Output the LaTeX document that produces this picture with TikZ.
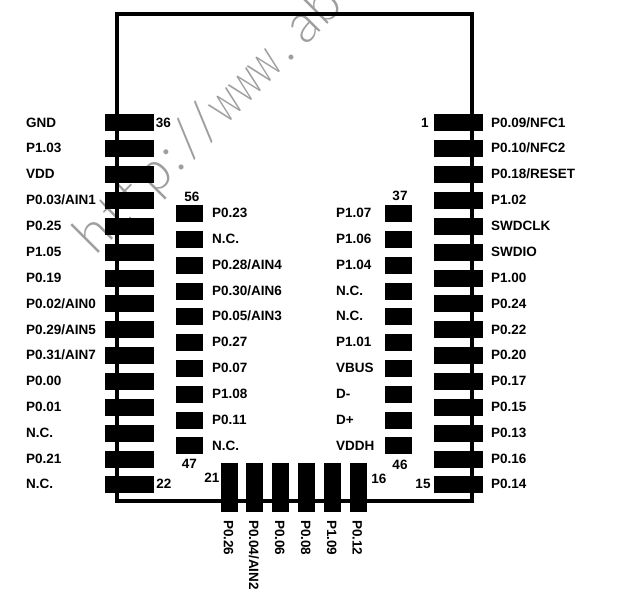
\documentclass[tikz,border=0pt]{standalone}
\usepackage{fontspec}
\setmainfont{Liberation Sans}
\newfontfamily\markfont{Lato}[UprightFont=* Light]
\begin{document}
\begin{tikzpicture}[x=1pt, y=1pt,
		outerpad/.style={fill=black, inner sep=0, minimum width=49, minimum height=17},
		innerpad/.style={fill=black, inner sep=0, minimum width=26.5, minimum height=17},
		bottompad/.style={fill=black, inner sep=0, minimum width=17, minimum height=49},
		pinname/.style={anchor=west, inner sep=0, text height=9.7, text depth=0, font=\fontsize{13.5}{14}\selectfont\bfseries},
		bottomname/.style={pinname, rotate=-90},
		pinnum/.style={inner sep=0, text height=9.7, text depth=0, font=\fontsize{13.5}{14}\selectfont\bfseries},
		mark text/.style={text=black!38, font=\fontsize{54}{60}\selectfont\markfont}]

		\useasboundingbox (0,0) rectangle (633,-600);
		\clip (0,0) rectangle (633,-600);

		\node (watermark) at (95,-257) [mark text, anchor=base west, rotate=45, inner sep=0] {h\kern6pt t\kern6pt t\kern6pt p\kern3pt :\kern6pt /\kern0pt /\kern2pt \scalebox{.68}[1]{www}\kern4pt .\kern12pt ab};

		\draw[line width=3.6] (117,-14) rectangle (472,-501);

		% left row
		\node (p36) at (129.5,-122.3) [outerpad] {}; \node (l36) at (26,-122.3) [pinname] {GND};
		\node (p35) at (129.5,-148.9) [outerpad] {}; \node (l35) at (26,-148) [pinname] {P1.03};
		\node (p34) at (129.5,-174.7) [outerpad] {}; \node (l34) at (26,-174) [pinname] {VDD};
		\node (p33) at (129.5,-200.3) [outerpad] {}; \node (l33) at (26,-200) [pinname] {P0.03/AIN1};
		\node (p32) at (129.5,-226.7) [outerpad] {}; \node (l32) at (26,-226) [pinname] {P0.25};
		\node (p31) at (129.5,-252.3) [outerpad] {}; \node (l31) at (26,-252) [pinname] {P1.05};
		\node (p30) at (129.5,-278) [outerpad] {}; \node (l30) at (26,-278) [pinname] {P0.19};
		\node (p29) at (129.5,-303.7) [outerpad] {}; \node (l29) at (26,-303.5) [pinname] {P0.02/AIN0};
		\node (p28) at (129.5,-329.7) [outerpad] {}; \node (l28) at (26,-329.3) [pinname] {P0.29/AIN5};
		\node (p27) at (129.5,-355.3) [outerpad] {}; \node (l27) at (26,-355) [pinname] {P0.31/AIN7};
		\node (p26) at (129.5,-381) [outerpad] {}; \node (l26) at (26,-381) [pinname] {P0.00};
		\node (p25) at (129.5,-407) [outerpad] {}; \node (l25) at (26,-406.5) [pinname] {P0.01};
		\node (p24) at (129.5,-433.3) [outerpad] {}; \node (l24) at (26,-432.5) [pinname] {N.C.};
		\node (p23) at (129.5,-459) [outerpad] {}; \node (l23) at (26,-458.5) [pinname] {P0.21};
		\node (p22) at (129.5,-484.7) [outerpad] {}; \node (l22) at (26,-484) [pinname] {N.C.};

		% right row
		\node (p1) at (458.5,-122.3) [outerpad] {}; \node (l1) at (491,-122.3) [pinname] {P0.09/NFC1};
		\node (p2) at (458.5,-148.9) [outerpad] {}; \node (l2) at (491,-148) [pinname] {P0.10/NFC2};
		\node (p3) at (458.5,-174.7) [outerpad] {}; \node (l3) at (491,-174) [pinname] {P0.18/RESET};
		\node (p4) at (458.5,-200.3) [outerpad] {}; \node (l4) at (491,-200) [pinname] {P1.02};
		\node (p5) at (458.5,-226.7) [outerpad] {}; \node (l5) at (491,-226) [pinname] {SWDCLK};
		\node (p6) at (458.5,-252.3) [outerpad] {}; \node (l6) at (491,-252) [pinname] {SWDIO};
		\node (p7) at (458.5,-278) [outerpad] {}; \node (l7) at (491,-278) [pinname] {P1.00};
		\node (p8) at (458.5,-303.7) [outerpad] {}; \node (l8) at (491,-303.5) [pinname] {P0.24};
		\node (p9) at (458.5,-329.7) [outerpad] {}; \node (l9) at (491,-329.3) [pinname] {P0.22};
		\node (p10) at (458.5,-355.3) [outerpad] {}; \node (l10) at (491,-355) [pinname] {P0.20};
		\node (p11) at (458.5,-381) [outerpad] {}; \node (l11) at (491,-381) [pinname] {P0.17};
		\node (p12) at (458.5,-407) [outerpad] {}; \node (l12) at (491,-406.5) [pinname] {P0.15};
		\node (p13) at (458.5,-433.3) [outerpad] {}; \node (l13) at (491,-432.5) [pinname] {P0.13};
		\node (p14) at (458.5,-459) [outerpad] {}; \node (l14) at (491,-458.5) [pinname] {P0.16};
		\node (p15) at (458.5,-484.7) [outerpad] {}; \node (l15) at (491,-484) [pinname] {P0.14};

		% inner left
		\node (p56) at (189.3,-213.3) [innerpad] {}; \node (l56) at (212,-212.7) [pinname] {P0.23};
		\node (p55) at (189.3,-239) [innerpad] {}; \node (l55) at (212,-239) [pinname] {N.C.};
		\node (p54) at (189.3,-265) [innerpad] {}; \node (l54) at (212,-264.5) [pinname] {P0.28/AIN4};
		\node (p53) at (189.3,-291) [innerpad] {}; \node (l53) at (212,-290.3) [pinname] {P0.30/AIN6};
		\node (p52) at (189.3,-316.7) [innerpad] {}; \node (l52) at (212,-316) [pinname] {P0.05/AIN3};
		\node (p51) at (189.3,-342.7) [innerpad] {}; \node (l51) at (212,-342) [pinname] {P0.27};
		\node (p50) at (189.3,-368.7) [innerpad] {}; \node (l50) at (212,-368) [pinname] {P0.07};
		\node (p49) at (189.3,-394.3) [innerpad] {}; \node (l49) at (212,-393.7) [pinname] {P1.08};
		\node (p48) at (189.3,-420) [innerpad] {}; \node (l48) at (212,-419.7) [pinname] {P0.11};
		\node (p47) at (189.3,-445.6) [innerpad] {}; \node (l47) at (212,-445.5) [pinname] {N.C.};

		% inner right
		\node (p37) at (398.5,-213.3) [innerpad] {}; \node (l37) at (336,-212.7) [pinname] {P1.07};
		\node (p38) at (398.5,-239) [innerpad] {}; \node (l38) at (336,-238.5) [pinname] {P1.06};
		\node (p39) at (398.5,-265) [innerpad] {}; \node (l39) at (336,-264.5) [pinname] {P1.04};
		\node (p40) at (398.5,-291) [innerpad] {}; \node (l40) at (336,-290.3) [pinname] {N.C.};
		\node (p41) at (398.5,-316.7) [innerpad] {}; \node (l41) at (336,-316) [pinname] {N.C.};
		\node (p42) at (398.5,-342.7) [innerpad] {}; \node (l42) at (336,-342) [pinname] {P1.01};
		\node (p43) at (398.5,-368.7) [innerpad] {}; \node (l43) at (336,-368) [pinname] {VBUS};
		\node (p44) at (398.5,-394.3) [innerpad] {}; \node (l44) at (336,-394) [pinname] {D-};
		\node (p45) at (398.5,-420) [innerpad] {}; \node (l45) at (336,-419.7) [pinname] {D+};
		\node (p46) at (398.5,-445.6) [innerpad] {}; \node (l46) at (336,-445.5) [pinname] {VDDH};

		% bottom row
		\node (p21) at (229.5,-487.5) [bottompad] {}; \node (l21) at (228.6,-520) [bottomname] {P0.26};
		\node (p20) at (254.5,-487.5) [bottompad] {}; \node (l20) at (254,-520) [bottomname] {P0.04/AIN2};
		\node (p19) at (280.5,-487.5) [bottompad] {}; \node (l19) at (280,-520) [bottomname] {P0.06};
		\node (p18) at (306.5,-487.5) [bottompad] {}; \node (l18) at (306,-520) [bottomname] {P0.08};
		\node (p17) at (332.5,-487.5) [bottompad] {}; \node (l17) at (332,-520) [bottomname] {P1.09};
		\node (p16) at (358,-487.5) [bottompad] {}; \node (l16) at (357.5,-520) [bottomname] {P0.12};

		% pin numbers
		\node (n36) at (163.5,-122.3) [pinnum] {36};
		\node (n22) at (164,-484) [pinnum] {22};
		\node (n1) at (425,-122.3) [pinnum] {1};
		\node (n15) at (423,-484) [pinnum] {15};
		\node (n56) at (192,-196.5) [pinnum] {56};
		\node (n47) at (189.5,-464) [pinnum] {47};
		\node (n37) at (400,-196) [pinnum] {37};
		\node (n46) at (400,-465) [pinnum] {46};
		\node (n21) at (212,-478) [pinnum] {21};
		\node (n16) at (379,-479) [pinnum] {16};
	\end{tikzpicture}
\end{document}
